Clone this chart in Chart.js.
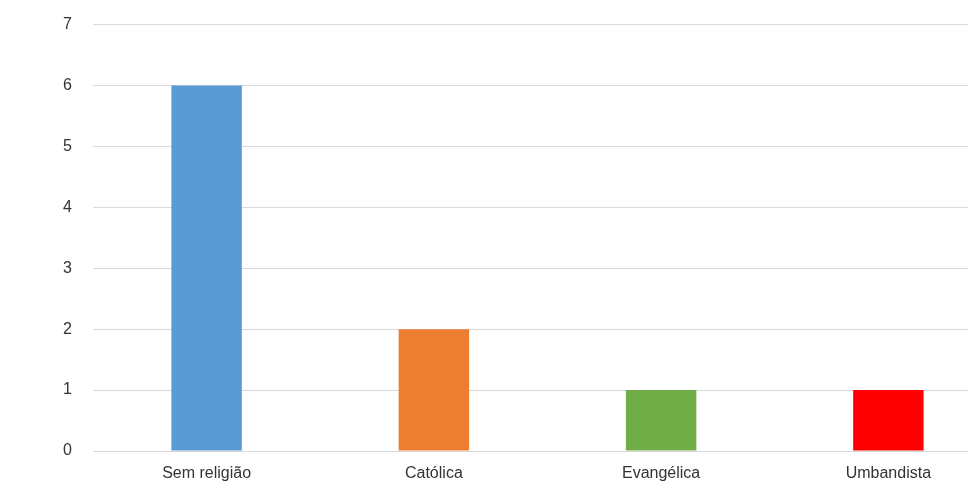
<!DOCTYPE html>
<html>
<head>
    <meta charset="utf-8">
    <title>Religião</title>
    <script src="https://cdn.jsdelivr.net/npm/chart.js"></script>
    <style>
        html, body { margin: 0; padding: 0; background: #fff; overflow: hidden; }
        .wrap { position: relative; width: 1002px; height: 504px; margin-top: -6px; }
    </style>
</head>
<body>
    <div class="wrap">
        <canvas id="religiaoChart"></canvas>
    </div>

    <script>
        // dados do gráfico
        const categorias = ['Sem religião', 'Católica', 'Evangélica', 'Umbandista'];
        const valores = [6, 2, 1, 1];
        const cores = ['#5B9BD5', '#ED7D31', '#70AD47', '#FF0000'];

        const ctx = document.getElementById('religiaoChart').getContext('2d');
        new Chart(ctx, {
            type: 'bar',
            data: {
                labels: categorias,
                datasets: [{
                    data: valores,
                    backgroundColor: cores,
                    borderWidth: 0,
                    categoryPercentage: 1,
                    barPercentage: 0.31
                }]
            },
            options: {
                responsive: true,
                maintainAspectRatio: false,
                animation: false,
                layout: { padding: { top: 18, right: 0, bottom: 0, left: 0 } },
                plugins: {
                    legend: { display: false },
                    tooltip: { enabled: false }
                },
                scales: {
                    x: {
                        grid: { display: false },
                        border: { display: false },
                        ticks: {
                            color: '#333333',
                            font: { family: 'Liberation Sans', size: 16 },
                            padding: 5,
                            maxRotation: 0
                        },
                        afterFit: s => { s.height = 47; }
                    },
                    y: {
                        min: 0,
                        max: 7,
                        ticks: {
                            stepSize: 1,
                            color: '#333333',
                            font: { family: 'Liberation Sans', size: 16 },
                            padding: 21
                        },
                        grid: { color: '#d9d9d9', drawTicks: false },
                        border: { display: false },
                        afterFit: s => { s.width = 93; }
                    }
                }
            }
        });
    </script>
</body>
</html>
